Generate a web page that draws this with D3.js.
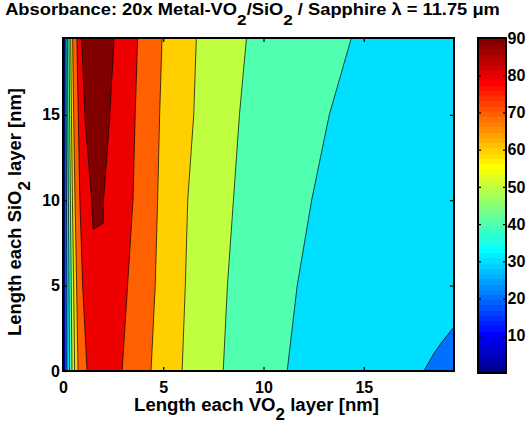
<!DOCTYPE html>
<html><head><meta charset="utf-8">
<script src="https://cdn.jsdelivr.net/npm/d3@7"></script>
<style>
body{margin:0;background:#fff}
text{font-family:"Liberation Sans",Arial,sans-serif;font-weight:bold;fill:#000}
</style>
</head><body>
<svg id="c" width="529" height="427"></svg>
<script>
// ---- data ----
const levels = [10, 20, 30, 40, 50, 60, 70];
const rowY = [0, 5, 10, 15, 19.5];
// x where the field rises through each level (left edge strip), per row
const leftCross = [
  [0.10, 0.09, 0.085, 0.08, 0.075],
  [0.20, 0.19, 0.175, 0.16, 0.15],
  [0.33, 0.30, 0.27, 0.24, 0.22],
  [0.45, 0.41, 0.37, 0.33, 0.30],
  [0.58, 0.53, 0.47, 0.42, 0.38],
  [0.75, 0.68, 0.60, 0.53, 0.48],
  [1.20, 0.98, 0.84, 0.76, 0.69]
];
// x where the field falls back through each level, per row (null = reaches right edge)
const rightCross = [
  null,
  null,
  [11.18, 11.68, 12.40, 13.28, 14.38],
  [7.99, 8.20, 8.50, 8.80, 9.15],
  [5.94, 6.10, 6.22, 6.52, 6.65],
  [4.39, 4.60, 4.72, 4.82, 4.94],
  [2.95, 3.22, 3.49, 3.60, 3.72]
];
// bottom-right corner where value < 20
const cornerX = [18.0, 18.5, 18.85, 19.18, 19.5];
const cornerY = [0, 1.03, 1.62, 2.11, 2.6];
// peak region where value > 80
const peakX = [0.93, 1.10, 1.43, 1.50, 2.00, 2.02, 2.32, 2.55];
const peakY = [19.5, 14.7, 10.0, 8.3, 8.65, 10.0, 14.7, 19.5];
const xTicks = [0, 5, 10, 15];
const yTicks = [0, 5, 10, 15];
const cTicks = [10, 20, 30, 40, 50, 60, 70, 80, 90];
const xMax = 19.5, yMax = 19.5, cMin = 0, cMax = 90;

// ---- MATLAB jet(64) colormap ----
function jet64(i) {
  const row = i + 1;
  const u = k => (k < 1 || k > 47) ? 0 : (k <= 16 ? k / 16 : (k <= 31 ? 1 : (48 - k) / 16));
  return d3.rgb(Math.round(u(row - 24) * 255), Math.round(u(row - 8) * 255), Math.round(u(row + 8) * 255)).formatHex();
}
const bandColor = upper => jet64(Math.min(63, Math.floor((upper - cMin) / (cMax - cMin) * 64)));

const svg = d3.select("#c");
const L = 63, R = 454, T = 38, B = 371;
const x = d3.scaleLinear().domain([0, xMax]).range([L, R]);
const y = d3.scaleLinear().domain([0, yMax]).range([B, T]);

svg.append("defs").append("clipPath").attr("id", "pc")
  .append("rect").attr("x", L).attr("y", T).attr("width", R - L).attr("height", B - T);
const g = svg.append("g").attr("clip-path", "url(#pc)");

g.append("rect").attr("x", L).attr("y", T).attr("width", R - L).attr("height", B - T)
  .attr("fill", bandColor(levels[0]));

const line = d3.line().x(d => x(d[0])).y(d => y(d[1]));

levels.forEach((lv, i) => {
  const left = rowY.map((yy, k) => [leftCross[i][k], yy]);
  let right;
  if (rightCross[i] === null) right = [[xMax, yMax], [xMax, 0]];
  else right = rowY.map((yy, k) => [rightCross[i][k], yy]).reverse();
  g.append("path").attr("d", line(left.concat(right)) + "Z").attr("fill", bandColor(lv + 10));
});
const corner = cornerX.map((v, k) => [v, cornerY[k]]);
g.append("path").attr("d", line(corner.concat([[xMax, 0]])) + "Z").attr("fill", bandColor(20));
const peak = peakX.map((v, k) => [v, peakY[k]]);
g.append("path").attr("d", line(peak) + "Z").attr("fill", bandColor(90));

// contour lines
const ls = g.append("g").attr("fill", "none").attr("stroke", "#000").attr("stroke-width", 0.7);
levels.forEach((lv, i) => {
  ls.append("path").attr("d", line(rowY.map((yy, k) => [leftCross[i][k], yy])));
  if (rightCross[i] !== null) ls.append("path").attr("d", line(rowY.map((yy, k) => [rightCross[i][k], yy])));
});
ls.append("path").attr("d", line(corner));
ls.append("path").attr("d", line(peak) + "Z");

// axes
function styleAxis(sel) { sel.select(".domain").remove(); sel.selectAll("line").attr("stroke", "#000").attr("stroke-width", 1.2); sel.selectAll("text").style("font-size", "16px").attr("fill", "#000"); }
svg.append("g").attr("transform", `translate(0,${B})`)
  .call(d3.axisBottom(x).tickValues(xTicks).tickSizeInner(-4).tickSizeOuter(0).tickPadding(10.5).tickFormat(d3.format("d")))
  .call(styleAxis);
svg.append("g").attr("transform", `translate(0,${T})`)
  .call(d3.axisTop(x).tickValues(xTicks).tickSizeInner(-4).tickSizeOuter(0).tickFormat(""))
  .call(styleAxis);
svg.append("g").attr("transform", `translate(${L},0)`)
  .call(d3.axisLeft(y).tickValues(yTicks).tickSizeInner(-4).tickSizeOuter(0).tickPadding(3).tickFormat(d3.format("d")))
  .call(styleAxis);
svg.append("g").attr("transform", `translate(${R},0)`)
  .call(d3.axisRight(y).tickValues(yTicks).tickSizeInner(-4).tickSizeOuter(0).tickFormat(""))
  .call(styleAxis);
svg.append("rect").attr("x", L).attr("y", T).attr("width", R - L).attr("height", B - T)
  .attr("fill", "none").attr("stroke", "#000").attr("stroke-width", 2);

// colorbar
const CL = 478, CR = 506, CT = 38, CB = 373;
const cy = d3.scaleLinear().domain([cMin, cMax]).range([CB, CT]);
const cb = svg.append("g");
d3.range(64).forEach(i => {
  const v0 = cMin + i * (cMax - cMin) / 64, v1 = cMin + (i + 1) * (cMax - cMin) / 64;
  cb.append("rect").attr("x", CL).attr("width", CR - CL)
    .attr("y", cy(v1)).attr("height", cy(v0) - cy(v1) + 0.5)
    .attr("fill", jet64(i)).attr("shape-rendering", "crispEdges");
});
svg.append("g").attr("transform", `translate(${CR},0)`)
  .call(d3.axisRight(cy).tickValues(cTicks).tickSizeInner(-3).tickSizeOuter(0).tickPadding(1.5).tickFormat(d3.format("d")))
  .call(styleAxis);
svg.append("g").attr("transform", `translate(${CL},0)`)
  .call(d3.axisLeft(cy).tickValues(cTicks).tickSizeInner(-3).tickSizeOuter(0).tickFormat(""))
  .call(styleAxis);
svg.append("rect").attr("x", CL).attr("y", CT).attr("width", CR - CL).attr("height", CB - CT)
  .attr("fill", "none").attr("stroke", "#000").attr("stroke-width", 2);

// text with horizontal fit to the reference extent
function fitText(parent, cx, cyPos, rot, targetLen, size, subSize, subShift, parts) {
  const outer = parent.append("g").attr("transform", `translate(${cx},${cyPos}) rotate(${rot})`);
  const inner = outer.append("g");
  const t = inner.append("text").attr("text-anchor", "middle").style("font-size", size + "px");
  let shift = 0;
  parts.forEach(p => {
    const target = p.sub ? subShift : 0;
    const ts = t.append("tspan").text(p.s);
    if (target !== shift) ts.attr("dy", target - shift);
    if (p.sub) ts.style("font-size", subSize + "px");
    shift = target;
  });
  const w = t.node().getBBox().width;
  inner.attr("transform", `scale(${targetLen / w},1)`);
}
fitText(svg, 252.5, 15, 0, 495, 16, 15, 10, [
  {s: "Absorbance: 20x Metal-VO"}, {s: "2", sub: true}, {s: "/SiO"}, {s: "2", sub: true},
  {s: " / Sapphire λ = 11.75 μm"}]);
fitText(svg, 256.5, 411, 0, 245, 17.5, 16, 9, [
  {s: "Length each VO"}, {s: "2", sub: true}, {s: " layer [nm]"}]);
fitText(svg, 21, 212, -90, 248, 17.5, 16, 9, [
  {s: "Length each SiO"}, {s: "2", sub: true}, {s: " layer [nm]"}]);
</script>
</body></html>
